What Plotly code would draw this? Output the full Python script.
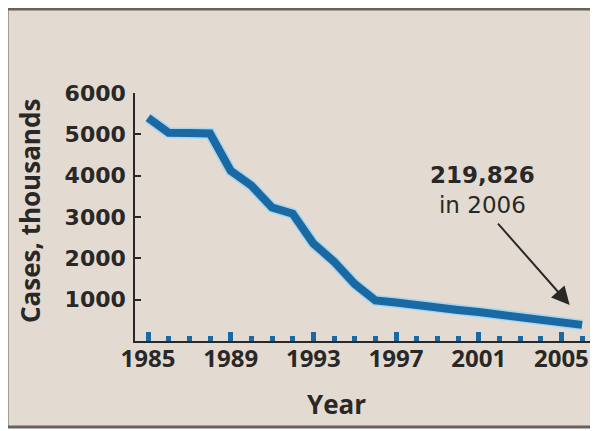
import plotly.graph_objects as go

# Data (cases, thousands)
years = list(range(1985, 2007))
cases = [5400, 5040, 5030, 5020, 4120, 3760, 3230, 3080, 2360, 1920, 1380,
         980, 930, 860, 800, 750, 700, 640, 580, 510, 450, 390]

x_tick_vals = [1985, 1989, 1993, 1997, 2001, 2005]
x_tick_text = ["1985", "1989", "1993", "1997", "2001", "2005"]
y_tick_vals = [1000, 2000, 3000, 4000, 5000, 6000]
y_tick_text = ["1000", "2000", "3000", "4000", "5000", "6000"]

note_text = "<b>219,826</b><br>in 2006"
x_title = "Year"
y_title = "Cases, thousands"

BG = "#e3dbd1"
BLUE = "#1a69a3"
HALO = "#a6d6ef"
DARK = "#2a2826"

fig = go.Figure()
fig.add_trace(go.Scatter(x=years, y=cases, mode="lines",
                         line=dict(color=HALO, width=11), hoverinfo="skip",
                         showlegend=False))
fig.add_trace(go.Scatter(x=years, y=cases, mode="lines",
                         line=dict(color=BLUE, width=8), showlegend=False))

# frame
fig.add_shape(type="rect", xref="paper", yref="paper",
              x0=-0.2813, x1=1.06, y0=-0.3468, y1=1.3387,
              line=dict(color="#67625e", width=3), fillcolor=BG, layer="below")

fig.add_annotation(x=2001.2, y=3650, xref="x", yref="y", text=note_text,
                   showarrow=False, font=dict(family="DejaVu Sans", size=23, color=DARK),
                   yanchor="middle", xanchor="center")
fig.add_annotation(x=2005.4, y=870, xref="x", yref="y", text="",
                   showarrow=True, ax=-73, ay=-83, arrowhead=2, arrowsize=1.8,
                   arrowwidth=2, arrowcolor=DARK)

fig.add_annotation(x=(336 - 135) / 455, y=(341 - 404) / 248, xref="paper", yref="paper",
                   text=x_title, showarrow=False, xanchor="center", yanchor="middle",
                   font=dict(family="Open Sans", size=26, color=DARK, weight="bold"))
fig.add_annotation(x=(30 - 135) / 455, y=(341 - 211) / 248, xref="paper", yref="paper",
                   text=y_title, showarrow=False, textangle=-90,
                   xanchor="center", yanchor="middle",
                   font=dict(family="Open Sans", size=26, color=DARK, weight="bold"))

fig.update_layout(
    width=590, height=423,
    margin=dict(l=127, r=8, t=85, b=90),
    paper_bgcolor="white", plot_bgcolor="rgba(0,0,0,0)",
    xaxis=dict(range=[1984.371, 2006.384], showgrid=False, zeroline=False,
               showline=True, linecolor=DARK, linewidth=2,
               tickvals=x_tick_vals, ticktext=x_tick_text,
               ticks="inside", ticklen=9, tickwidth=5, tickcolor=BLUE,
               minor=dict(ticks="inside", dtick=1, tick0=1985, ticklen=5,
                          tickwidth=5, tickcolor=BLUE),
               ticklabelstandoff=-5,
               tickfont=dict(family="Open Sans", size=24, color=DARK, weight="bold")),
    yaxis=dict(range=[0, 6000], showgrid=False, zeroline=False,
               showline=True, linecolor=DARK, linewidth=1.5,
               tickvals=y_tick_vals, ticktext=y_tick_text,
               ticks="inside", ticklen=6, tickwidth=1.5, tickcolor=DARK,
               ticklabelstandoff=3,
               tickfont=dict(family="DejaVu Sans", size=22, color=DARK, weight="bold")),
)

fig.write_html("out.html")
